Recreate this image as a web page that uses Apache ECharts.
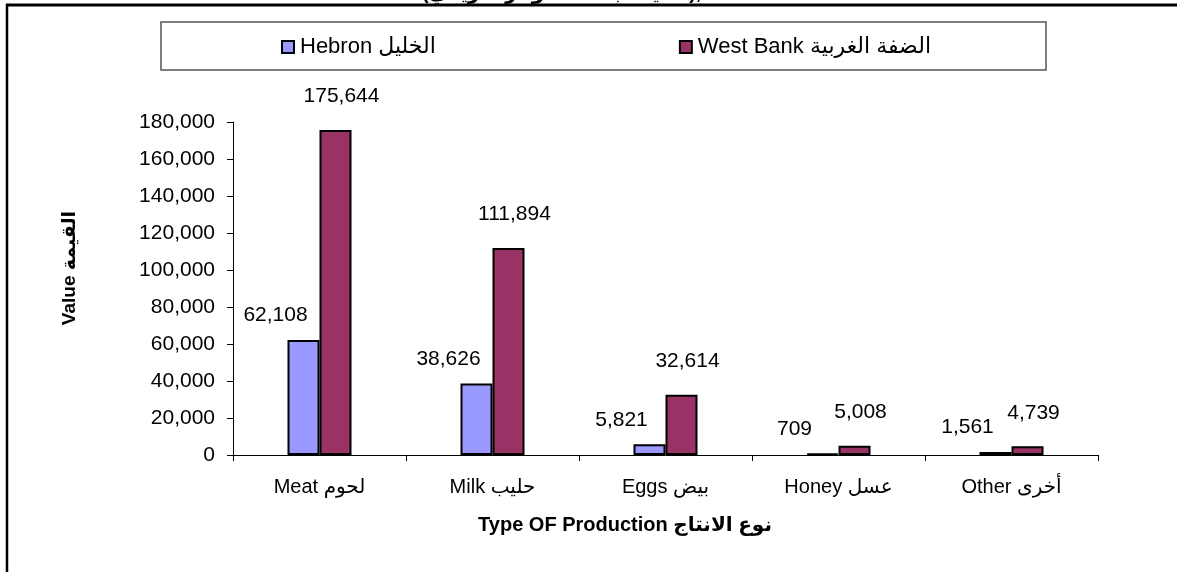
<!DOCTYPE html>
<html>
<head>
<meta charset="utf-8">
<script src="https://cdn.jsdelivr.net/npm/echarts@6/dist/echarts.min.js"></script>
<style>
html,body{margin:0;padding:0;background:#fff;}
#chart{width:1177px;height:572px;}
</style>
</head>
<body>
<div id="chart"></div>
<script>
var categories = ['Meat لحوم', 'Milk حليب', 'Eggs بيض', 'Honey عسل', 'Other أخرى'];
var hebronValues = [62108, 38626, 5821, 709, 1561];
var westBankValues = [175644, 111894, 32614, 5008, 4739];
var seriesNames = ['Hebron الخليل', 'West Bank الضفة الغربية'];
var yMin = 0, yMax = 180000, yInterval = 20000;

var FONT = '"Liberation Sans", Arial, "DejaVu Sans", sans-serif';
var chart = echarts.init(document.getElementById('chart'), null, {renderer: 'canvas'});

function fmt(v) { return v.toLocaleString('en-US'); }

var option = {
  backgroundColor: '#ffffff',
  animation: false,
  textStyle: {fontFamily: FONT, color: '#000'},
  legend: {
    left: 281,
    top: 36,
    itemGap: 243,
    itemWidth: 12,
    itemHeight: 12,
    icon: 'rect',
    padding: 0,
    textStyle: {fontFamily: FONT, fontSize: 22, color: '#000', padding: [0, 0, 0, 1]},
    data: seriesNames
  },
  grid: {left: 233, right: 79, top: 122, bottom: 117, containLabel: false},
  xAxis: {
    type: 'category',
    data: categories,
    axisLine: {lineStyle: {color: '#000', width: 1}},
    axisTick: {show: true, length: 6, lineStyle: {color: '#000'}},
    axisLabel: {fontFamily: FONT, fontSize: 20, color: '#000', margin: 22},
    splitLine: {show: false}
  },
  yAxis: {
    type: 'value',
    min: yMin,
    max: yMax,
    interval: yInterval,
    axisLine: {show: true, lineStyle: {color: '#000', width: 1}},
    axisTick: {show: true, inside: false, length: 6, lineStyle: {color: '#000'}},
    axisLabel: {fontFamily: FONT, fontSize: 21, color: '#000', margin: 18, formatter: function (v) { return fmt(v); }},
    splitLine: {show: false}
  },
  series: [
    {
      name: seriesNames[0],
      type: 'bar',
      data: hebronValues,
      barWidth: 32,
      barGap: '0%',
      itemStyle: {color: '#9999FF', borderColor: '#000', borderWidth: 2},
      label: {
        show: true, position: 'top', distance: 14, offset: [-28, 0],
        fontFamily: FONT, fontSize: 21, color: '#000',
        formatter: function (p) { return fmt(p.value); }
      }
    },
    {
      name: seriesNames[1],
      type: 'bar',
      data: westBankValues,
      barWidth: 32,
      barGap: '0%',
      itemStyle: {color: '#993366', borderColor: '#000', borderWidth: 2},
      label: {
        show: true, position: 'top', distance: 23, offset: [6, 0],
        fontFamily: FONT, fontSize: 21, color: '#000',
        formatter: function (p) { return fmt(p.value); }
      }
    }
  ],
  graphic: [
    {type: 'rect', shape: {x: 161, y: 22, width: 885, height: 48}, style: {fill: 'rgba(0,0,0,0)', stroke: '#555', lineWidth: 1.5}, z: 1},
    {type: 'text', x: 625, y: 525, style: {text: 'Type OF Production نوع الانتاج', fontFamily: FONT, fontSize: 20, fontWeight: 'bold', fill: '#000', textAlign: 'center', textVerticalAlign: 'middle'}},
    {type: 'text', x: 70, y: 268, rotation: Math.PI / 2, style: {text: 'Value القيمة', fontFamily: FONT, fontSize: 19, fontWeight: 'bold', fill: '#000', textAlign: 'center', textVerticalAlign: 'middle'}},
    {type: 'text', x: 422, y: 3, style: {text: '(القيمة بالألف دولار أمريكي),', fontFamily: FONT, fontSize: 20, fontWeight: 'bold', fill: '#000', textAlign: 'left', textVerticalAlign: 'bottom'}},
    {type: 'line', shape: {x1: 6, y1: 5, x2: 1177, y2: 5}, style: {stroke: '#000', lineWidth: 3}, z: 100},
    {type: 'line', shape: {x1: 7, y1: 4, x2: 7, y2: 572}, style: {stroke: '#000', lineWidth: 2.5}, z: 100}
  ]
};
chart.setOption(option);
</script>
</body>
</html>
